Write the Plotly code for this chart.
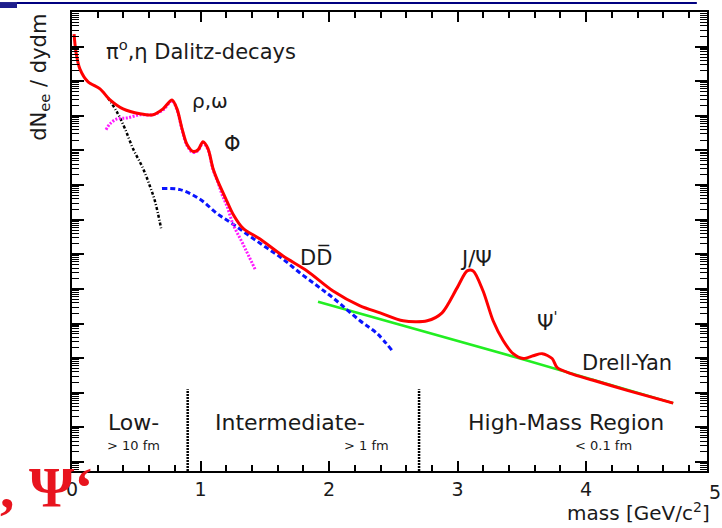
import numpy as np
import plotly.graph_objects as go

# ---- data (mass in GeV/c^2, log10 of dN/dydm in arbitrary units) ----
red_mass = [0.016, 0.031, 0.062, 0.125, 0.218, 0.296, 0.397, 0.529, 0.630, 0.708, 0.778,
            0.817, 0.856, 0.895, 0.942, 0.981, 1.019, 1.058, 1.097, 1.136, 1.206, 1.253,
            1.331, 1.463, 1.642, 1.829, 2.031, 2.241, 2.397, 2.576, 2.763, 2.879, 2.996,
            3.074, 3.121, 3.198, 3.276, 3.354, 3.432, 3.510, 3.588, 3.658, 3.735, 3.774,
            3.875, 4.054, 4.319, 4.677]
red_log10 = [12.36, 11.84, 11.35, 10.98, 10.78, 10.46, 10.20, 10.06, 10.03, 10.20, 10.46,
             10.20, 9.63, 9.17, 8.97, 9.02, 9.25, 9.05, 8.48, 8.10, 7.53, 7.16,
             6.75, 6.44, 5.95, 5.52, 4.94, 4.51, 4.31, 4.08, 4.08, 4.31, 5.03,
             5.52, 5.52, 4.94, 4.08, 3.51, 3.13, 2.99, 3.07, 3.13, 2.99, 2.73,
             2.56, 2.36, 2.07, 1.70]

dalitz_mass = [0.280, 0.350, 0.412, 0.475, 0.553, 0.607, 0.646, 0.693]
dalitz_log10 = [10.52, 10.11, 9.63, 9.05, 8.48, 7.96, 7.53, 6.75]

vector_mass = [0.265, 0.296, 0.350, 0.428, 0.529, 0.630, 0.708, 0.778, 0.817, 0.856, 0.895,
               0.942, 0.981, 1.019, 1.058, 1.097, 1.136, 1.167, 1.206, 1.253, 1.331, 1.424]
vector_log10 = [9.60, 9.77, 9.91, 9.94, 10.03, 10.03, 10.17, 10.43, 10.17, 9.60, 9.14,
                8.94, 9.00, 9.22, 9.02, 8.45, 8.07, 7.73, 7.39, 6.87, 6.29, 5.57]

charm_mass = [0.700, 0.840, 0.996, 1.128, 1.253, 1.385, 1.518, 1.642, 1.774, 1.907, 2.031,
              2.241, 2.374, 2.490]
charm_log10 = [7.90, 7.87, 7.59, 7.18, 6.87, 6.52, 6.18, 5.86, 5.46, 5.09, 4.74,
               4.08, 3.71, 3.22]

dy_mass = [1.914, 3.486, 4.677]
dy_log10 = [4.63, 2.99, 1.70]

region_bounds = [0.9, 2.7]
region_bound_top_log10 = 2.10

x_ticks = [0, 1, 2, 3, 4]
x_tick_text = ["0", "1", "2", "3", "4"]
last_tick_label = "5"

Y_MIN_LOG, Y_MAX_LOG = -0.26, 13.0
X_MAX = 4.94

TXT = "#1a1a1a"
FONT = "DejaVu Sans"

fig = go.Figure()

for xb in region_bounds:
    fig.add_trace(go.Scatter(x=[xb, xb], y=[10 ** Y_MIN_LOG, 10 ** region_bound_top_log10],
                             mode="lines", line=dict(color="black", width=2.5, dash="2px,1px"),
                             hoverinfo="skip", showlegend=False))

fig.add_trace(go.Scatter(x=dy_mass, y=10 ** np.array(dy_log10), mode="lines",
                         line=dict(color="#22ee22", width=2.5), showlegend=False))
fig.add_trace(go.Scatter(x=charm_mass, y=10 ** np.array(charm_log10), mode="lines",
                         line=dict(color="#0a14ff", width=3, dash="5px,3px", shape="spline"),
                         showlegend=False))
fig.add_trace(go.Scatter(x=dalitz_mass, y=10 ** np.array(dalitz_log10), mode="lines",
                         line=dict(color="black", width=2.5, dash="3px,2px,1px,2px", shape="spline"),
                         showlegend=False))
fig.add_trace(go.Scatter(x=vector_mass, y=10 ** np.array(vector_log10), mode="lines",
                         line=dict(color="#ff1aff", width=3, dash="2px,1.5px", shape="spline"),
                         showlegend=False))
fig.add_trace(go.Scatter(x=red_mass, y=10 ** np.array(red_log10), mode="lines",
                         line=dict(color="#ff0000", width=3, shape="spline", smoothing=0.8),
                         showlegend=False))

labels = [
    ("π<sup>o</sup>,η Dalitz-decays", 0.249, 11.90, 21),
    ("ρ,ω", 0.918, 10.42, 20),
    ("Φ", 1.167, 9.20, 21),
    ("DD\u0305", 1.759, 5.92, 21),
    ("J/Ψ", 3.004, 5.86, 21),
    ("Ψ<sup>'</sup>", 3.603, 4.08, 21),
    ("Drell-Yan", 3.953, 2.87, 21),
    ("Low-", 0.265, 1.15, 22),
    ("Intermediate-", 1.097, 1.15, 22),
    ("High-Mass Region", 3.066, 1.15, 22),
    ("> 10 fm", 0.257, 0.49, 13),
    ("> 1 fm", 2.101, 0.49, 13),
    ("< 0.1 fm", 3.899, 0.49, 13),
]
for txt, lx, ly, sz in labels:
    fig.add_annotation(x=lx, y=ly, xref="x", yref="y", text=txt, showarrow=False,
                       xanchor="left", yanchor="middle",
                       font=dict(family=FONT, size=sz, color=TXT))

# y-axis title (top-left, rotated)
fig.add_annotation(x=-0.028, y=1.0, xref="paper", yref="paper", text="dN<sub>ee</sub> / dydm",
                   textangle=-90, showarrow=False, xanchor="right", yanchor="top",
                   font=dict(family=FONT, size=21, color=TXT))
# x-axis title
fig.add_annotation(x=1.008, y=-0.09, xref="paper", yref="paper", text="mass [GeV/c<sup>2</sup>]",
                   showarrow=False, xanchor="right", yanchor="middle",
                   font=dict(family=FONT, size=20, color=TXT))
# last tick label (sits just past the plot frame in the reference)
fig.add_annotation(x=1.0126, y=-0.018, xref="paper", yref="paper", text=last_tick_label,
                   showarrow=False, xanchor="center", yanchor="top",
                   font=dict(family=FONT, size=19, color=TXT))
# slide fragment
fig.add_annotation(x=-0.116, y=-0.036, xref="paper", yref="paper", text=", Ψ\u2018",
                   showarrow=False, xanchor="left", yanchor="middle",
                   font=dict(family="Liberation Serif", size=58, color="#e8141e", weight="bold"))

# slide decorations
fig.add_shape(type="rect", xref="paper", yref="paper", x0=-0.1134, x1=-0.0866, y0=1.0087, y1=1.0217,
              fillcolor="#1e1e8c", line=dict(width=0))
fig.add_shape(type="line", xref="paper", yref="paper", x0=-0.0866, x1=0.984, y0=1.0195, y1=1.0195,
              line=dict(color="#000080", width=2))

fig.update_layout(
    width=722, height=528,
    margin=dict(l=72, r=15, t=10, b=57),
    paper_bgcolor="white", plot_bgcolor="white",
    showlegend=False,
    xaxis=dict(range=[0, X_MAX], tickvals=x_ticks, ticktext=x_tick_text,
               ticks="inside", ticklen=10, tickwidth=2, tickcolor="black",
               showline=True, linewidth=2, linecolor="black", mirror="ticks",
               showgrid=False, zeroline=False,
               tickfont=dict(family=FONT, size=19, color=TXT),
               minor=dict(ticks="inside", dtick=0.2, ticklen=6, tickwidth=1.5, tickcolor="black",
                          showgrid=False)),
    yaxis=dict(type="log", range=[Y_MIN_LOG, Y_MAX_LOG], dtick=1,
               ticks="inside", ticklen=12, tickwidth=2, tickcolor="black",
               showline=True, linewidth=2, linecolor="black", mirror="ticks",
               showgrid=False, zeroline=False, showticklabels=False,
               minor=dict(ticks="inside", dtick="D1", ticklen=7, tickwidth=1.2, tickcolor="black",
                          showgrid=False)),
)

fig.write_html("out.html")
